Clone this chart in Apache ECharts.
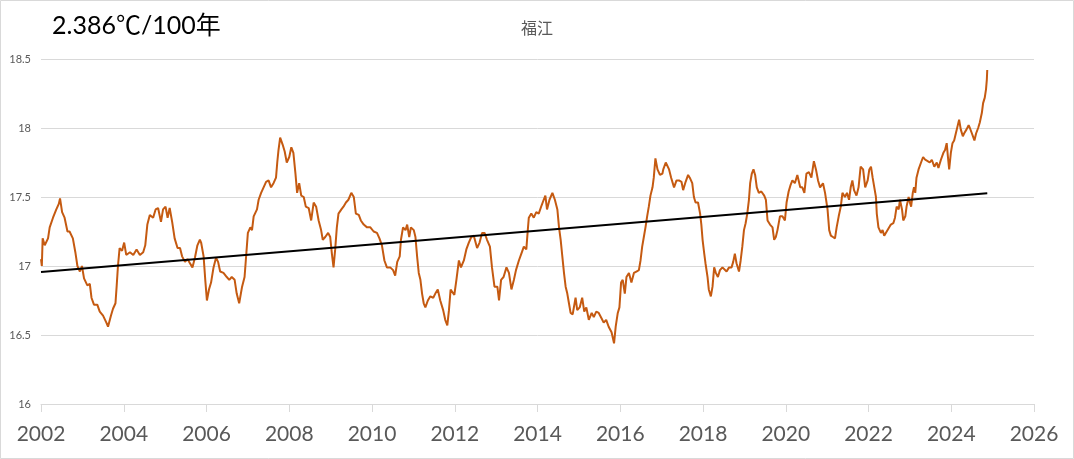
<!DOCTYPE html>
<html>
<head>
<meta charset="utf-8">
<script src="https://cdn.jsdelivr.net/npm/echarts@6/dist/echarts.min.js"></script>
<style>
html,body{margin:0;padding:0;background:#fff;}
#chart{width:1074px;height:459px;}
</style>
</head>
<body>
<div id="chart"></div>
<script>
// ---- data ----
const chartTitle = "福江";
const trendLabel = "2.386℃/100年";
const xTicks = [2002, 2026, 2];          // min, max, step
const yTicks = [16, 18.5, 0.5];          // min, max, step

// [decimal year, temperature °C]
const fukueTemps = [
[2002.00,17.05],[2002.02,17.00],[2002.04,17.20],[2002.09,17.15],[2002.17,17.20],[2002.21,17.28],[2002.29,17.35],[2002.37,17.41],[2002.43,17.45],[2002.46,17.49],
[2002.51,17.39],[2002.57,17.35],[2002.64,17.25],[2002.69,17.25],[2002.77,17.20],[2002.83,17.10],[2002.88,17.00],[2002.94,16.96],[2002.99,17.00],[2003.04,16.91],
[2003.12,16.86],[2003.18,16.87],[2003.22,16.77],[2003.28,16.72],[2003.36,16.72],[2003.42,16.67],[2003.50,16.64],[2003.58,16.59],[2003.62,16.56],[2003.69,16.64],
[2003.74,16.69],[2003.80,16.73],[2003.83,16.86],[2003.86,17.00],[2003.90,17.13],[2003.96,17.11],[2004.01,17.17],[2004.06,17.08],[2004.15,17.10],[2004.23,17.08],
[2004.31,17.12],[2004.39,17.08],[2004.47,17.10],[2004.52,17.15],[2004.57,17.30],[2004.63,17.37],[2004.71,17.35],[2004.77,17.41],[2004.83,17.42],[2004.90,17.32],
[2004.95,17.41],[2005.01,17.43],[2005.06,17.35],[2005.11,17.42],[2005.17,17.32],[2005.23,17.20],[2005.30,17.13],[2005.36,17.13],[2005.41,17.07],[2005.48,17.03],
[2005.54,17.05],[2005.60,17.02],[2005.66,16.99],[2005.72,17.06],[2005.78,17.15],[2005.84,17.19],[2005.87,17.17],[2005.93,17.07],[2005.97,16.90],[2006.01,16.75],
[2006.06,16.83],[2006.11,16.88],[2006.17,16.99],[2006.23,17.06],[2006.28,17.03],[2006.33,16.96],[2006.41,16.95],[2006.49,16.92],[2006.55,16.90],[2006.61,16.92],
[2006.68,16.90],[2006.73,16.80],[2006.79,16.73],[2006.86,16.85],[2006.92,16.92],[2006.95,17.04],[2007.00,17.24],[2007.06,17.28],[2007.10,17.26],[2007.14,17.36],
[2007.22,17.41],[2007.26,17.48],[2007.32,17.53],[2007.38,17.57],[2007.44,17.61],[2007.50,17.62],[2007.56,17.57],[2007.62,17.60],[2007.68,17.64],[2007.71,17.75],
[2007.74,17.84],[2007.78,17.93],[2007.84,17.88],[2007.89,17.83],[2007.94,17.75],[2008.00,17.79],[2008.05,17.86],[2008.10,17.82],[2008.15,17.67],[2008.19,17.53],
[2008.24,17.60],[2008.29,17.51],[2008.35,17.50],[2008.40,17.43],[2008.47,17.42],[2008.53,17.33],[2008.59,17.46],[2008.65,17.43],[2008.71,17.33],[2008.77,17.26],
[2008.81,17.19],[2008.87,17.21],[2008.94,17.24],[2008.99,17.21],[2009.03,17.09],[2009.07,16.99],[2009.11,17.12],[2009.15,17.28],[2009.19,17.38],[2009.26,17.41],
[2009.31,17.43],[2009.37,17.46],[2009.43,17.48],[2009.50,17.53],[2009.56,17.50],[2009.61,17.38],[2009.68,17.37],[2009.73,17.33],[2009.80,17.30],[2009.88,17.28],
[2009.96,17.28],[2010.04,17.25],[2010.12,17.24],[2010.18,17.20],[2010.24,17.15],[2010.30,17.04],[2010.36,16.99],[2010.44,16.99],[2010.51,16.97],[2010.56,16.93],
[2010.61,17.03],[2010.67,17.07],[2010.70,17.19],[2010.75,17.28],[2010.81,17.26],[2010.85,17.30],[2010.90,17.21],[2010.94,17.28],[2011.01,17.26],[2011.05,17.21],
[2011.09,17.07],[2011.13,16.95],[2011.17,16.90],[2011.21,16.80],[2011.25,16.73],[2011.29,16.70],[2011.35,16.75],[2011.41,16.78],[2011.48,16.77],[2011.53,16.80],
[2011.59,16.83],[2011.65,16.75],[2011.72,16.68],[2011.77,16.61],[2011.82,16.57],[2011.86,16.68],[2011.90,16.83],[2011.94,16.83],[2011.99,16.79],[2012.04,16.90],
[2012.10,17.04],[2012.15,16.99],[2012.22,17.04],[2012.28,17.12],[2012.34,17.17],[2012.40,17.21],[2012.46,17.22],[2012.54,17.13],[2012.60,17.17],[2012.66,17.24],
[2012.72,17.24],[2012.78,17.19],[2012.85,17.14],[2012.90,16.99],[2012.96,16.85],[2013.03,16.85],[2013.07,16.75],[2013.12,16.90],[2013.18,16.92],[2013.25,16.99],
[2013.31,16.95],[2013.37,16.83],[2013.43,16.90],[2013.48,16.97],[2013.55,17.04],[2013.61,17.09],[2013.67,17.14],[2013.73,17.12],[2013.76,17.24],[2013.79,17.35],
[2013.85,17.38],[2013.91,17.35],[2013.97,17.39],[2014.03,17.38],[2014.10,17.44],[2014.15,17.48],[2014.19,17.51],[2014.23,17.41],[2014.29,17.48],[2014.36,17.53],
[2014.42,17.48],[2014.48,17.41],[2014.52,17.28],[2014.56,17.19],[2014.60,17.07],[2014.64,16.95],[2014.68,16.85],[2014.72,16.80],[2014.76,16.73],[2014.80,16.66],
[2014.85,16.65],[2014.92,16.77],[2014.96,16.68],[2015.02,16.70],[2015.08,16.77],[2015.13,16.67],[2015.18,16.70],[2015.24,16.61],[2015.31,16.66],[2015.36,16.63],
[2015.42,16.67],[2015.48,16.66],[2015.55,16.62],[2015.60,16.59],[2015.66,16.61],[2015.72,16.56],[2015.79,16.52],[2015.85,16.44],[2015.89,16.56],[2015.94,16.66],
[2015.98,16.70],[2016.02,16.88],[2016.06,16.90],[2016.11,16.80],[2016.15,16.92],[2016.21,16.95],[2016.27,16.88],[2016.33,16.95],[2016.39,16.96],[2016.45,16.97],
[2016.49,17.04],[2016.53,17.14],[2016.57,17.21],[2016.61,17.28],[2016.65,17.36],[2016.69,17.43],[2016.73,17.51],[2016.78,17.57],[2016.81,17.64],[2016.85,17.78],
[2016.90,17.70],[2016.96,17.66],[2017.02,17.67],[2017.04,17.70],[2017.10,17.75],[2017.14,17.76],[2017.18,17.70],[2017.23,17.64],[2017.30,17.57],[2017.36,17.62],
[2017.42,17.62],[2017.48,17.61],[2017.52,17.55],[2017.58,17.61],[2017.64,17.66],[2017.68,17.64],[2017.74,17.60],[2017.78,17.50],[2017.82,17.46],[2017.88,17.46],
[2017.93,17.38],[2017.96,17.30],[2017.99,17.19],[2018.03,17.09],[2018.06,17.02],[2018.11,16.92],[2018.14,16.83],[2018.19,16.78],[2018.23,16.85],[2018.27,16.99],
[2018.31,16.95],[2018.36,16.92],[2018.41,16.97],[2018.47,16.99],[2018.51,16.99],[2018.57,16.96],[2018.63,16.99],[2018.69,16.99],[2018.73,17.03],[2018.77,17.09],
[2018.81,17.02],[2018.87,16.96],[2018.91,17.04],[2018.95,17.14],[2018.99,17.26],[2019.03,17.31],[2019.07,17.38],[2019.11,17.48],[2019.14,17.60],[2019.18,17.67],
[2019.22,17.70],[2019.26,17.66],[2019.30,17.57],[2019.35,17.53],[2019.41,17.54],[2019.48,17.51],[2019.52,17.48],[2019.56,17.33],[2019.62,17.30],[2019.68,17.28],
[2019.72,17.19],[2019.76,17.21],[2019.80,17.26],[2019.86,17.36],[2019.92,17.36],[2019.98,17.33],[2020.02,17.46],[2020.07,17.54],[2020.12,17.59],[2020.16,17.62],
[2020.22,17.60],[2020.28,17.66],[2020.35,17.57],[2020.40,17.57],[2020.45,17.53],[2020.50,17.67],[2020.56,17.68],[2020.62,17.64],[2020.68,17.76],[2020.73,17.70],
[2020.78,17.62],[2020.83,17.57],[2020.87,17.57],[2020.90,17.60],[2020.95,17.53],[2021.01,17.41],[2021.05,17.26],[2021.09,17.22],[2021.14,17.21],[2021.19,17.20],
[2021.23,17.28],[2021.28,17.36],[2021.33,17.43],[2021.37,17.53],[2021.43,17.50],[2021.48,17.53],[2021.53,17.48],[2021.57,17.57],[2021.61,17.62],[2021.65,17.55],
[2021.71,17.51],[2021.76,17.57],[2021.81,17.72],[2021.87,17.70],[2021.92,17.57],[2021.98,17.62],[2022.02,17.70],[2022.06,17.72],[2022.10,17.64],[2022.14,17.57],
[2022.18,17.50],[2022.20,17.38],[2022.24,17.28],[2022.30,17.24],[2022.34,17.26],[2022.38,17.22],[2022.44,17.25],[2022.48,17.24],[2022.54,17.30],[2022.60,17.31],
[2022.64,17.35],[2022.68,17.43],[2022.73,17.41],[2022.76,17.48],[2022.81,17.41],[2022.84,17.33],[2022.89,17.36],[2022.92,17.43],[2022.97,17.50],[2023.00,17.46],
[2023.03,17.43],[2023.07,17.53],[2023.10,17.57],[2023.13,17.53],[2023.16,17.64],[2023.21,17.70],[2023.27,17.75],[2023.32,17.79],[2023.37,17.77],[2023.43,17.76],
[2023.48,17.75],[2023.53,17.77],[2023.59,17.72],[2023.65,17.75],[2023.69,17.71],[2023.75,17.77],[2023.81,17.82],[2023.85,17.84],[2023.89,17.89],[2023.92,17.79],
[2023.95,17.70],[2023.99,17.82],[2024.03,17.89],[2024.07,17.91],[2024.11,17.96],[2024.15,18.01],[2024.19,18.06],[2024.23,17.99],[2024.28,17.94],[2024.31,17.96],
[2024.37,17.99],[2024.42,18.02],[2024.45,18.00],[2024.50,17.96],[2024.56,17.91],[2024.60,17.96],[2024.65,18.00],[2024.69,18.04],[2024.74,18.11],[2024.77,18.18],
[2024.81,18.22],[2024.84,18.28],[2024.86,18.35],[2024.87,18.42]
];

// linear trend end points
const trendLine = [[2002.00,16.957],[2024.87,17.527]];

// ---- chart ----
const chart = echarts.init(document.getElementById('chart'), null, {renderer:'canvas'});
const gridColor = '#d9d9d9';
const textColor = '#595959';
chart.setOption({
  animation:false,
  backgroundColor:'#ffffff',
  grid:{left:41,right:40,top:59,bottom:55,containLabel:false},
  title:{
    text:chartTitle,left:'center',top:15,
    textStyle:{fontSize:16,fontWeight:'normal',color:textColor,fontFamily:"'Noto Sans CJK JP','Noto Sans CJK SC',sans-serif"}
  },
  graphic:[
    {type:'rect',shape:{x:0.5,y:0.5,width:1073,height:458},style:{fill:'none',stroke:gridColor,lineWidth:1},silent:true},
    {type:'text',left:52,top:13,style:{text:trendLabel,fontSize:25,fill:'#000',fontFamily:"Lato,'Noto Sans CJK JP',sans-serif"}}
  ],
  xAxis:{
    type:'value',min:xTicks[0],max:xTicks[1],interval:xTicks[2],
    axisLine:{show:true,lineStyle:{color:gridColor,width:1}},
    axisTick:{show:true,length:8,lineStyle:{color:gridColor}},
    splitLine:{show:false},
    axisLabel:{fontSize:21,color:textColor,fontFamily:'Lato, sans-serif',margin:20,formatter:v=>String(v)}
  },
  yAxis:{
    type:'value',min:yTicks[0],max:yTicks[1],interval:yTicks[2],
    axisLine:{show:false},axisTick:{show:false},
    splitLine:{show:true,lineStyle:{color:gridColor,width:1}},
    axisLabel:{fontSize:11,color:textColor,fontFamily:'Lato, sans-serif',margin:10}
  },
  series:[
    {type:'line',data:fukueTemps,showSymbol:false,symbol:'none',smooth:false,
     lineStyle:{color:'#C55A11',width:2},z:2},
    {type:'line',data:trendLine,showSymbol:false,symbol:'none',
     lineStyle:{color:'#000000',width:2},z:3}
  ]
});
</script>
</body>
</html>
